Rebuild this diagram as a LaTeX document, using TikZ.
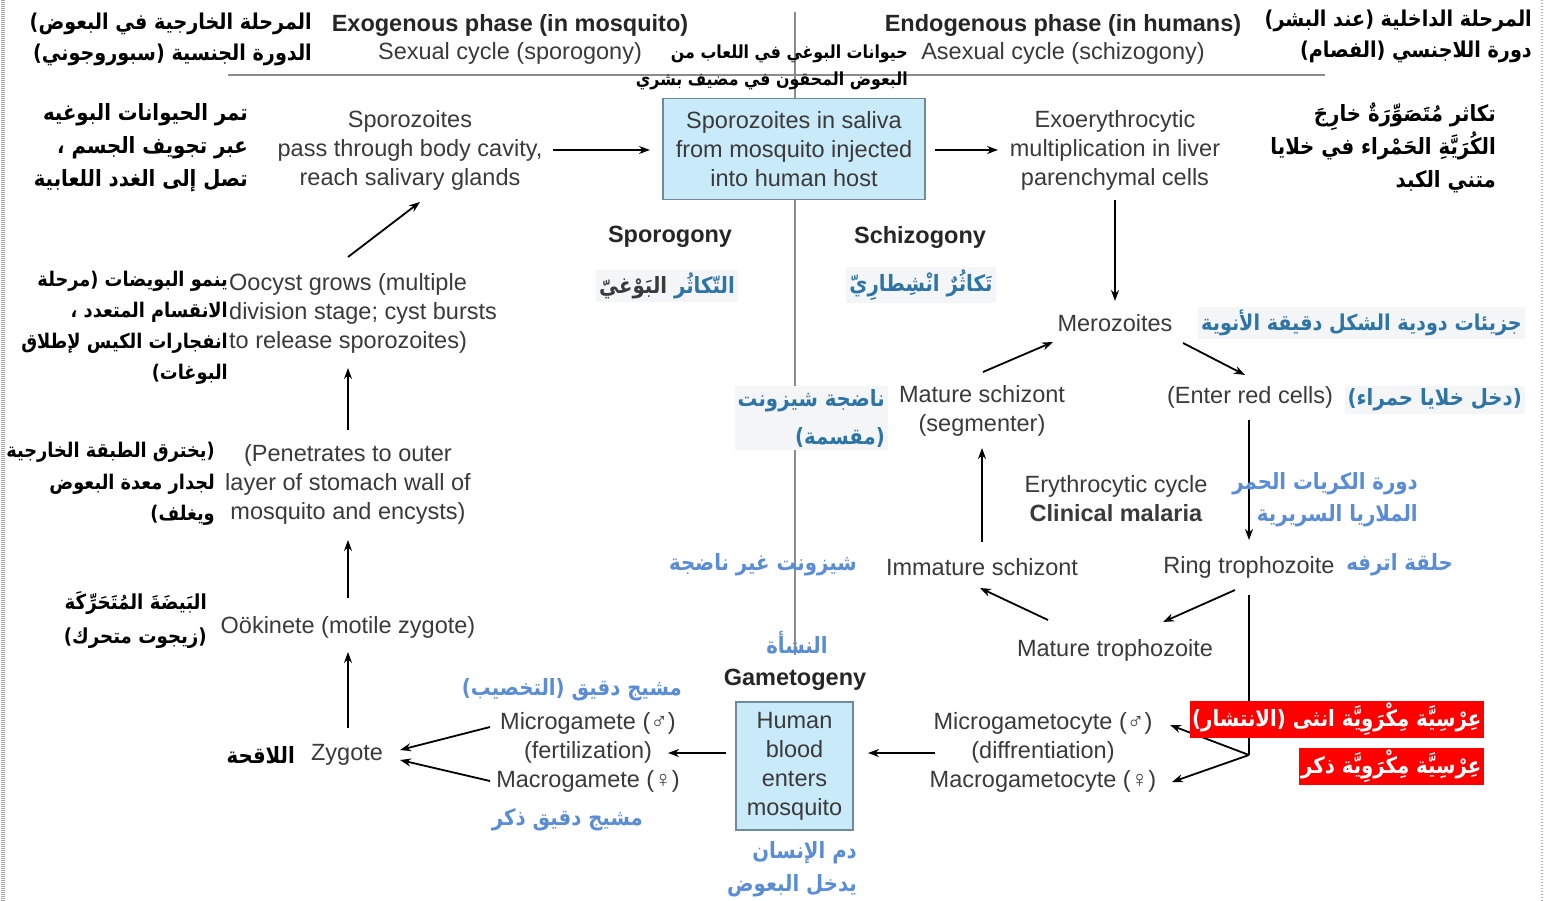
\documentclass[tikz,border=0pt]{standalone}
\usepackage{fontspec}
\setmainfont{Liberation Sans}
\newfontfamily\arabicfont[Script=Arabic, FakeStretch=0.88]{DejaVu Sans}
\TeXXeTstate=1
\usetikzlibrary{arrows.meta,calc}
\newcommand{\AR}[1]{\beginR #1\endR}
\newcommand{\arsz}[2]{\arabicfont\bfseries\fontsize{#1}{#2}\selectfont}
\definecolor{txt}{HTML}{3A3A3A}
\definecolor{dblue}{HTML}{2E74A5}
\definecolor{lblue}{HTML}{5A8DD6}
\definecolor{bgc}{HTML}{F3F5F7}
\definecolor{boxf}{HTML}{C9EAF9}
\definecolor{boxd}{HTML}{6F8A99}
\definecolor{rule}{HTML}{8C8C8C}
\tikzset{
  en/.style={font=\fontsize{23.5}{29}\selectfont, text=txt, align=center, inner sep=0pt},
  enb/.style={font=\fontsize{23.5}{29}\selectfont\bfseries, text=black!85, align=center, inner sep=0pt},
  ar/.style={font=\arsz{22.4}{33}, align=right, inner sep=0pt, text=black},
  arb/.style={ar, text=dblue, fill=bgc, inner sep=3pt},
  arl/.style={ar, text=lblue},
  arred/.style={ar, text=white, fill=red, inner sep=2.5pt},
  bluebox/.style={en, draw=boxd, fill=boxf, line width=1.2pt},
  arr/.style={-{Stealth[length=11pt,width=8pt]}, line width=1.8pt, black},
  plainline/.style={line width=1.8pt, black},
}
\begin{document}
\begin{tikzpicture}[x=1pt,y=-1pt]
\useasboundingbox (0,0) rectangle (1546,901);
\fill[white] (0,0) rectangle (1546,901);
% frame edges
\draw[gray!70, line width=4pt, dash pattern=on 1pt off 1pt] (2.5,0) -- (2.5,901);
\draw[gray!60, line width=2pt, dash pattern=on 1pt off 2pt] (1542,0) -- (1542,901);
% dividers
\draw[rule, line width=1.5pt] (795,12) -- (795,655);
\draw[rule, line width=1.5pt] (228,75) -- (1325,75);

% headers
\node[enb] (exoh) at (510,25) {Exogenous phase (in mosquito)};
\node[en] (sexc) at (510,53) {Sexual cycle (sporogony)};
\node[enb] (endoh) at (1063,25) {Endogenous phase (in humans)};
\node[en] (asexc) at (1063,53) {Asexual cycle (schizogony)};

% main English nodes
\node[en] (sporo) at (410,150) {Sporozoites\\pass through body cavity,\\reach salivary glands};
\node[bluebox, minimum width=262, minimum height=101] (saliva) at (794,149) {Sporozoites in saliva\\from mosquito injected\\into human host};
\node[en] (exo) at (1115,150) {Exoerythrocytic\\multiplication in liver\\parenchymal cells};
\node[en] (mero) at (1115,323) {Merozoites};
\node[en] (matsch) at (982,411) {Mature schizont\\(segmenter)};
\node[en] (enter) at (1250,397) {(Enter red cells)};
\node[en] (ery) at (1116,499) {Erythrocytic cycle\\\textbf{Clinical malaria}};
\node[en] (immsch) at (982,567) {Immature schizont};
\node[en] (ring) at (1249,567) {Ring trophozoite};
\node[en] (mattro) at (1115,650) {Mature trophozoite};
\node[en] (gamcyte) at (1043,752) {Microgametocyte (♂)\\(diffrentiation)\\Macrogametocyte (♀)};
\node[bluebox, minimum width=117, minimum height=128] (blood) at (794.5,766) {Human\\blood\\enters\\mosquito};
\node[en] (gamete) at (588,752) {Microgamete (♂)\\(fertilization)\\Macrogamete (♀)};
\node[en] (zygote) at (347,755) {Zygote};
\node[en] (ooki) at (348,627) {Oökinete (motile zygote)};
\node[en] (penet) at (348,484) {(Penetrates to outer\\layer of stomach wall of\\mosquito and encysts)};
\node[en, align=left, anchor=west] (oocyst) at (229,313) {Oocyst grows (multiple\\division stage; cyst bursts\\to release sporozoites)};
\node[enb] (sporog) at (670,237) {Sporogony};
\node[enb] (schizog) at (920,237) {Schizogony};
\node[enb] (gametog) at (795,680) {Gametogeny};

% connectors (end points given relative to node centres)
\draw[arr] ([shift={(143,0)}]sporo.center) -- ([shift={(-144,1)}]saliva.center);
\draw[arr] ([shift={(141,1)}]saliva.center) -- ([shift={(-117,0)}]exo.center);
\draw[arr] ([shift={(0,50)}]exo.center) -- ([shift={(0,-22)}]mero.center);
\draw[arr] ([shift={(1,-39)}]matsch.center) -- ([shift={(-62,19)}]mero.center);
\draw[arr] ([shift={(68,20)}]mero.center) -- ([shift={(-5,-22)}]enter.center);
\draw[arr] ([shift={(-1,23)}]enter.center) -- ([shift={(0,-27)}]ring.center);
\draw[arr] ([shift={(0,-25)}]immsch.center) -- ([shift={(0,37)}]matsch.center);
\draw[arr] ([shift={(-14,23)}]ring.center) -- ([shift={(48,-28)}]mattro.center);
\draw[arr] ([shift={(-67,-30)}]mattro.center) -- ([shift={(-2,21)}]immsch.center);
\coordinate (split) at (1249,755);
\draw[plainline] ([shift={(0,28)}]ring.center) -- (split);
\draw[arr] (split) -- ([shift={(127,-27)}]gamcyte.center);
\draw[arr] (split) -- ([shift={(129,30)}]gamcyte.center);
\draw[arr] ([shift={(-108,1)}]gamcyte.center) -- ([shift={(73.5,-13)}]blood.center);
\draw[arr] ([shift={(-68.5,-13)}]blood.center) -- ([shift={(80,1)}]gamete.center);
\draw[arr] ([shift={(-98,-25)}]gamete.center) -- ([shift={(53,-5)}]zygote.center);
\draw[arr] ([shift={(-98,29)}]gamete.center) -- ([shift={(53,5)}]zygote.center);
\draw[arr] ([shift={(1,-27)}]zygote.center) -- ([shift={(0,25)}]ooki.center);
\draw[arr] ([shift={(0,-29)}]ooki.center) -- ([shift={(0,56)}]penet.center);
\draw[arr] ([shift={(0,-54)}]penet.center) -- ([shift={(119,55)}]oocyst.west);
\draw[arr] ([shift={(119,-56)}]oocyst.west) -- ([shift={(10,52)}]sporo.center);

% Arabic black annotations
\node[ar, font=\arsz{21.8}{31}, anchor=east] (atl) at (312,39) {\AR{المرحلة الخارجية في البعوض)}\\\AR{الدورة الجنسية (سبوروجوني)}};
\node[ar, font=\arsz{21.8}{31}, anchor=east] (atr) at (1532,36) {\AR{المرحلة الداخلية (عند البشر)}\\\AR{دورة اللاجنسي (الفصام)}};
\node[ar, font=\arsz{18}{27}, anchor=east] (asal) at (908,67) {\AR{حيوانات البوغي في اللعاب من}\\\AR{البعوض المحقون في مضيف بشري}};
\node[ar, anchor=east] (atam) at (248,148) {\AR{تمر الحيوانات البوغيه}\\\AR{عبر تجويف الجسم ،}\\\AR{تصل إلى الغدد اللعابية}};
\node[ar, font=\arsz{20.2}{31}, anchor=east] (ayan) at (228,328) {\AR{ينمو البويضات (مرحلة}\\\AR{الانقسام المتعدد ،}\\\AR{انفجارات الكيس لإطلاق}\\\AR{البوغات)}};
\node[ar, font=\arsz{20.2}{31.5}, anchor=east] (ayak) at (215,484) {\AR{(يخترق الطبقة الخارجية}\\\AR{لجدار معدة البعوض}\\\AR{ويغلف)}};
\node[ar, font=\arsz{20.7}{34}, anchor=east] (abay) at (207,620) {\AR{البَيضَةَ المُتَحَرِّكَة}\\\AR{(زيجوت متحرك)}};
\node[ar, anchor=east] (alaq) at (295,755) {\AR{اللاقحة}};
\node[ar, anchor=east] (atak) at (1496,148) {\AR{تكاثر مُتَصَوِّرَةٌ خارِجَ}\\\AR{الكُرَيَّةِ الحَمْراء في خلايا}\\\AR{متني الكبد}};

% Arabic blue annotations
\node[arb] (aspo) at (667,286) {{\color{txt}\AR{البَوْغيّ}} {\color{dblue}\AR{التّكاثُر}}};
\node[arb] (asch) at (921,285) {\AR{تَكاثُرٌ انْشِطارِيّ}};
\node[arb, font=\arsz{21.8}{33}, anchor=east] (ajuz) at (1525,323) {\AR{جزيئات دودية الشكل دقيقة الأنوية}};
\node[arb, anchor=east] (adak) at (1525,400) {\AR{(دخل خلايا حمراء)}};
\node[arb, anchor=east, font=\arsz{22.4}{38}] (anad) at (888,418) {\AR{ناضجة شيزونت}\\\AR{(مقسمة)}};
\node[arl, font=\arsz{22.4}{32}, anchor=east] (adaw) at (1418,500) {\AR{دورة الكريات الحمر}\\\AR{الملاريا السريرية}};
\node[arl, anchor=east] (ahal) at (1453,565) {\AR{حلقة اترفه}};
\node[arl, anchor=east] (ashi) at (857,565) {\AR{شيزونت غير ناضجة}};
\node[arl] (anas) at (797,643) {\AR{النشأة}};
\node[arl, anchor=east] (amas1) at (682,690) {\AR{مشيج دقيق (التخصيب)}};
\node[arl, anchor=east] (amas2) at (643,820) {\AR{مشيج دقيق ذكر}};
\node[arl, anchor=east] (adam) at (857,869) {\AR{دم الإنسان}\\\AR{يدخل البعوض}};
\node[arred, anchor=east] (ared1) at (1484,719.5) {\AR{عِرْسِيَّة مِكْرَوِيَّة انثى (الانتشار)}};
\node[arred, anchor=east] (ared2) at (1484,766.5) {\AR{عِرْسِيَّة مِكْرَوِيَّة ذكر}};
\end{tikzpicture}
\end{document}
